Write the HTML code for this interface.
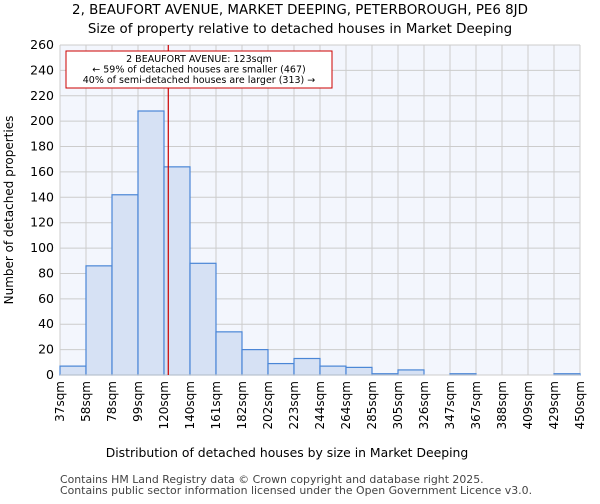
<!DOCTYPE html>
<html><head><meta charset="utf-8"><style>
body{margin:0;background:#fff;font-family:"DejaVu Sans","Liberation Sans",sans-serif;}
</style></head><body>
<svg width="600" height="500" xmlns="http://www.w3.org/2000/svg" font-family="DejaVu Sans, Liberation Sans, sans-serif">
<text x="300" y="14" text-anchor="middle" font-size="13.4">2, BEAUFORT AVENUE, MARKET DEEPING, PETERBOROUGH, PE6 8JD</text>
<text x="300" y="33" text-anchor="middle" font-size="13.4">Size of property relative to detached houses in Market Deeping</text>
<rect x="60" y="45" width="520" height="330" fill="#f3f6fd"/>
<g id="grid"></g><g id="bars"></g><g id="axes"></g>
<text x="287" y="457" text-anchor="middle" font-size="12.4">Distribution of detached houses by size in Market Deeping</text>
<text transform="translate(13,210) rotate(-90)" text-anchor="middle" font-size="12">Number of detached properties</text>
<text x="60" y="483" font-size="10.9" fill="#444">Contains HM Land Registry data © Crown copyright and database right 2025.</text>
<text x="60" y="494" font-size="10.9" fill="#444">Contains public sector information licensed under the Open Government Licence v3.0.</text>
</svg>
<script>
const categories=["37sqm","58sqm","78sqm","99sqm","120sqm","140sqm","161sqm","182sqm","202sqm","223sqm","244sqm","264sqm","285sqm","305sqm","326sqm","347sqm","367sqm","388sqm","409sqm","429sqm","450sqm"];
const counts=[7,86,142,208,164,88,34,20,9,13,7,6,1,4,0,1,0,0,0,1];
const yTicks=[0,20,40,60,80,100,120,140,160,180,200,220,240,260];
const binStart=37, binEnd=450, propertySize=123;
const X0=60,X1=580,Y0=375,Y1=45,YMAX=260;
const ns="http://www.w3.org/2000/svg";
const bw=(X1-X0)/counts.length;
const xs=i=>X0+i*bw;
const ys=v=>Y0-v/YMAX*(Y0-Y1);
const xv=v=>X0+(v-binStart)/(binEnd-binStart)*(X1-X0);
function mk(t,a,p){const e=document.createElementNS(ns,t);for(const k in a)e.setAttribute(k,a[k]);p.appendChild(e);return e;}
const grid=document.getElementById('grid'),bars=document.getElementById('bars'),axes=document.getElementById('axes');
yTicks.forEach(v=>{
 const l=mk('line',{x1:X0,x2:X1,y1:ys(v),y2:ys(v),stroke:'#ccc'},grid);
 
 
 const t=mk('text',{x:X0-6,y:ys(v)+4,'text-anchor':'end','font-size':12.5},axes);t.textContent=v;
 
 
});
categories.forEach((c,i)=>{
 const l=mk('line',{x1:xs(i),x2:xs(i),y1:Y1,y2:Y0,stroke:'#ccc'},grid);
 
 
 const t=mk('text',{transform:`translate(${xs(i)+4},${Y0+6}) rotate(-90)`,'text-anchor':'end','font-size':12},axes);t.textContent=c;
 
 
});
counts.forEach((v,i)=>{
 const r=mk('rect',{x:xs(i),y:ys(v),width:bw,height:Y0-ys(v),fill:'#d6e1f4',stroke:'#4a86d6','stroke-width':1.2},bars);
 
 
});
const ax=mk('line',{x1:X0,x2:X1,y1:Y0,y2:Y0,stroke:'#ccc'},axes);


const px=xv(propertySize);
const ml=mk('line',{x1:px,x2:px,y1:Y1,y2:Y0,stroke:'#cc0000','stroke-width':1.2},axes);


const box=mk('rect',{x:66,y:51,width:266,height:37,fill:'#fff',stroke:'#cc0000'},axes);


["2 BEAUFORT AVENUE: 123sqm","← 59% of detached houses are smaller (467)","40% of semi-detached houses are larger (313) →"].forEach((s,i)=>{
 const t=mk('text',{x:199,y:62+i*10.5,'text-anchor':'middle','font-size':9.5},axes);t.textContent=s;
 
 
});
</script>
</body></html>
